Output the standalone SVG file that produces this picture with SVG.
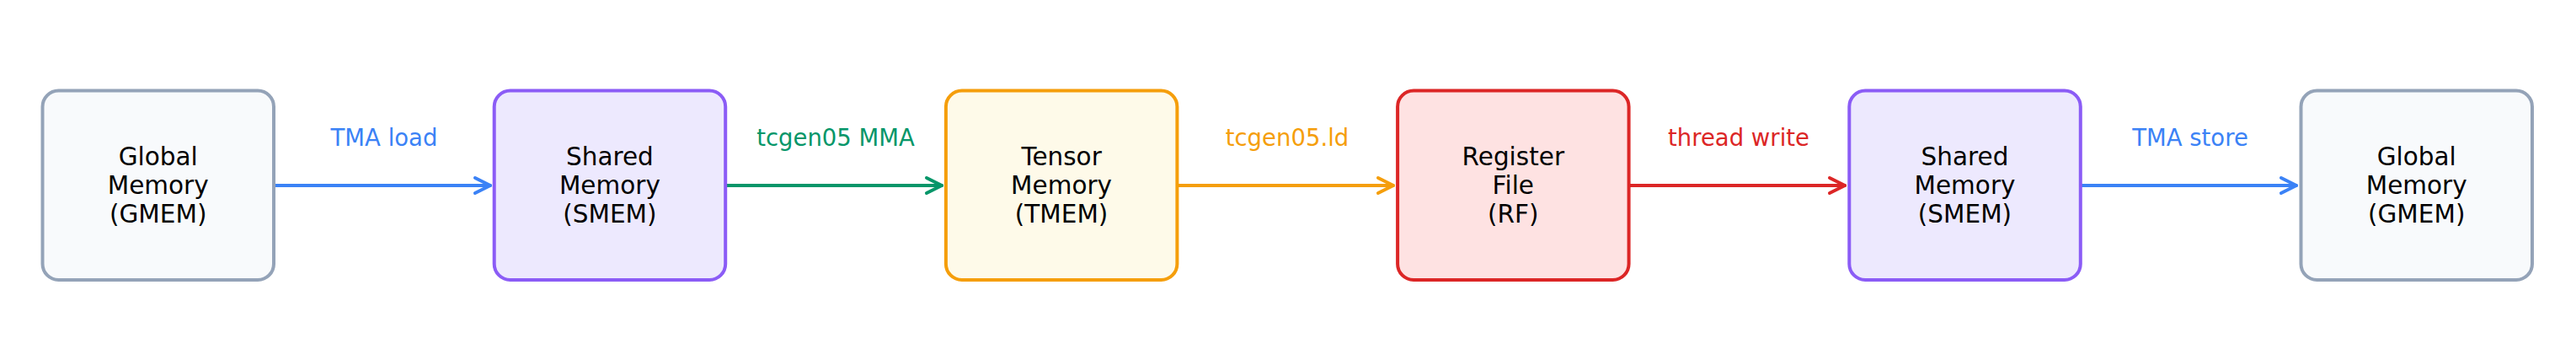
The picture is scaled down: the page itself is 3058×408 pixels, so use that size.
<svg xmlns="http://www.w3.org/2000/svg" width="3058" height="408" viewBox="0 0 3058 408">
<style>
.box{stroke-width:4}
.nt{font-family:"DejaVu Sans",sans-serif;font-size:29.5px;fill:#000;text-anchor:middle}
.lb{font-family:"DejaVu Sans",sans-serif;font-size:27.5px;text-anchor:middle}
.cn path{fill:none;stroke-width:4;stroke-linecap:round;stroke-linejoin:round}
.g{fill:#f8fafc;stroke:#94a3b8}
.s{fill:#ede9fe;stroke:#8b5cf6}
.t{fill:#fefae9;stroke:#f59e0b}
.r{fill:#fee2e2;stroke:#dc2626}
</style>
<rect width="3058" height="408" fill="#fff"/>
<g id="connectors">
<g class="cn" stroke="#3b82f6"><path d="M325 220 H582"/><path d="M564 211 L582 220 L564 229"/></g>
<g class="cn" stroke="#059669"><path d="M861 220 H1118"/><path d="M1100 211 L1118 220 L1100 229"/></g>
<g class="cn" stroke="#f59e0b"><path d="M1397 220 H1654"/><path d="M1636 211 L1654 220 L1636 229"/></g>
<g class="cn" stroke="#dc2626"><path d="M1933 220 H2190"/><path d="M2172 211 L2190 220 L2172 229"/></g>
<g class="cn" stroke="#3b82f6"><path d="M2469 220 H2726"/><path d="M2708 211 L2726 220 L2708 229"/></g>
<text class="lb" x="456" y="173" fill="#3b82f6">TMA load</text>
<text class="lb" x="992" y="173" fill="#059669">tcgen05 MMA</text>
<text class="lb" x="1528" y="173" fill="#f59e0b">tcgen05.ld</text>
<text class="lb" x="2064" y="173" fill="#dc2626">thread write</text>
<text class="lb" x="2600" y="173" fill="#3b82f6">TMA store</text>
</g>
<g id="gmem1"><rect class="box g" x="50.5" y="107.5" width="274.5" height="224.5" rx="19"/>
<text class="nt" x="187.7" y="196">Global</text><text class="nt" x="187.7" y="230">Memory</text><text class="nt" x="187.7" y="264">(GMEM)</text></g>
<g id="smem1"><rect class="box s" x="586.7" y="107.5" width="274.5" height="224.5" rx="19"/>
<text class="nt" x="723.9" y="196">Shared</text><text class="nt" x="723.9" y="230">Memory</text><text class="nt" x="723.9" y="264">(SMEM)</text></g>
<g id="tmem"><rect class="box t" x="1122.9" y="107.5" width="274.5" height="224.5" rx="19"/>
<text class="nt" x="1260.1" y="196">Tensor</text><text class="nt" x="1260.1" y="230">Memory</text><text class="nt" x="1260.1" y="264">(TMEM)</text></g>
<g id="rf"><rect class="box r" x="1659.1" y="107.5" width="274.5" height="224.5" rx="19"/>
<text class="nt" x="1796.3" y="196">Register</text><text class="nt" x="1796.3" y="230">File</text><text class="nt" x="1796.3" y="264">(RF)</text></g>
<g id="smem2"><rect class="box s" x="2195.3" y="107.5" width="274.5" height="224.5" rx="19"/>
<text class="nt" x="2332.5" y="196">Shared</text><text class="nt" x="2332.5" y="230">Memory</text><text class="nt" x="2332.5" y="264">(SMEM)</text></g>
<g id="gmem2"><rect class="box g" x="2731.5" y="107.5" width="274.5" height="224.5" rx="19"/>
<text class="nt" x="2868.7" y="196">Global</text><text class="nt" x="2868.7" y="230">Memory</text><text class="nt" x="2868.7" y="264">(GMEM)</text></g>
</svg>
